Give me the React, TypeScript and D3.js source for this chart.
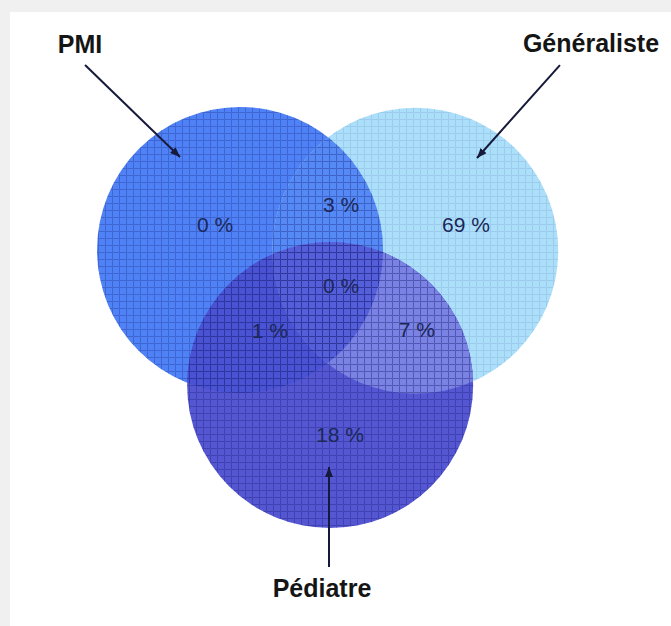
import React from "react";
import * as d3 from "d3";

const W = 671;
const H = 626;

// Sets of the diagram, with circle centres in radius units
const setNames = ["PMI", "Généraliste", "Pédiatre"];
const setCx = [-0.615, 0.61, 0.015];
const setCy = [-0.315, -0.31, 0.63];

// Region values (share of respondents, %)
const regionKeys = ["PMI", "Généraliste", "Pédiatre", "PMI∩Généraliste", "PMI∩Pédiatre", "Généraliste∩Pédiatre", "PMI∩Généraliste∩Pédiatre"];
const regionValues = [0, 69, 18, 3, 1, 7, 0];
const regionLx = [-0.79, 0.965, 0.084, 0.091, -0.406, 0.622, 0.091];
const regionLy = [-0.441, -0.441, 1.028, -0.58, 0.301, 0.294, -0.014];

// Set label anchors and their pointer arrows (radius units)
const labelX = [-1.734, 1.839, -0.042];
const labelY = [-1.692, -1.699, 2.112];
const arrowX1 = [-1.699, 1.622, 0.007];
const arrowY1 = [-1.608, -1.608, 1.902];
const arrowX2 = [-1.035, 1.042, 0.007];
const arrowY2 = [-0.965, -0.958, 1.203];

// Fill per set and per overlap
const setFill = ["#4f82f6", "#acdffa", "#5557d2"];
const pairFill: Record<string, string> = {
  "0-1": "#5589f5",
  "0-2": "#4a53d4",
  "1-2": "#7a82e4",
};
const tripleFill = "#565fda";

export default function App() {
  const x = d3.scaleLinear().domain([-1, 1]).range([185, 471]);
  const y = d3.scaleLinear().domain([-1, 1]).range([152, 438]);
  const r = x(1) - x(0);

  const circles = setNames.map((name, i) => ({ name, cx: x(setCx[i]), cy: y(setCy[i]) }));
  const pairs: [number, number][] = [[0, 1], [0, 2], [1, 2]];

  return (
    <svg
      width={W}
      height={H}
      style={{ position: "absolute", left: 0, top: 0, display: "block" }}
      fontFamily="'Liberation Sans', Arial, sans-serif"
    >
      <defs>
        {circles.map((c, i) => (
          <clipPath id={`clip-${i}`} key={i}>
            <circle cx={c.cx} cy={c.cy} r={r} />
          </clipPath>
        ))}
        {pairs.map(([a, b]) => (
          <clipPath id={`clip-${a}-${b}`} key={`${a}-${b}`} clipPath={`url(#clip-${a})`}>
            <circle cx={circles[b].cx} cy={circles[b].cy} r={r} />
          </clipPath>
        ))}
        <pattern id="grid" width={7} height={7} patternUnits="userSpaceOnUse">
          <path d="M7 0.5 L0.5 0.5 L0.5 7" fill="none" stroke="#14196e" strokeWidth={1} />
        </pattern>
        <marker
          id="arrow"
          viewBox="0 0 10 8"
          refX={10}
          refY={4}
          markerWidth={10}
          markerHeight={8}
          markerUnits="userSpaceOnUse"
          orient="auto"
        >
          <path d="M0 0 L10 4 L0 8 Z" fill="#161a3a" />
        </marker>
      </defs>

      <rect x={0} y={0} width={W} height={H} fill="#f0f0f0" />
      <rect x={10} y={12} width={W - 10} height={H - 12} fill="#ffffff" />

      {/* single sets */}
      {circles.map((c, i) => (
        <circle key={c.name} cx={c.cx} cy={c.cy} r={r} fill={setFill[i]} />
      ))}
      {/* pairwise overlaps */}
      {pairs.map(([a, b]) => (
        <circle
          key={`p-${a}-${b}`}
          cx={circles[b].cx}
          cy={circles[b].cy}
          r={r}
          fill={pairFill[`${a}-${b}`]}
          clipPath={`url(#clip-${a})`}
        />
      ))}
      {/* triple overlap */}
      <circle cx={circles[2].cx} cy={circles[2].cy} r={r} fill={tripleFill} clipPath="url(#clip-0-1)" />

      {/* grid texture */}
      <g clipPath="url(#clip-1)">
        <rect x={0} y={0} width={W} height={H} fill="url(#grid)" opacity={0.1} />
      </g>
      <g clipPath="url(#clip-0)">
        <rect x={0} y={0} width={W} height={H} fill="url(#grid)" opacity={0.28} />
      </g>
      <g clipPath="url(#clip-2)">
        <rect x={0} y={0} width={W} height={H} fill="url(#grid)" opacity={0.34} />
      </g>

      {/* region values */}
      {regionKeys.map((k, i) => (
        <text
          key={k}
          x={x(regionLx[i])}
          y={y(regionLy[i])}
          textAnchor="middle"
          fontSize={21}
          fill="#1c2858"
        >
          {`${regionValues[i]} %`}
        </text>
      ))}

      {/* set labels with pointers */}
      {setNames.map((name, i) => (
        <g key={`l-${name}`}>
          <line
            x1={x(arrowX1[i])}
            y1={y(arrowY1[i])}
            x2={x(arrowX2[i])}
            y2={y(arrowY2[i])}
            stroke="#161a3a"
            strokeWidth={2}
            markerEnd="url(#arrow)"
          />
          <text
            x={x(labelX[i])}
            y={y(labelY[i])}
            textAnchor="middle"
            fontSize={25}
            fontWeight="bold"
            fill="#151515"
          >
            {name}
          </text>
        </g>
      ))}
    </svg>
  );
}
